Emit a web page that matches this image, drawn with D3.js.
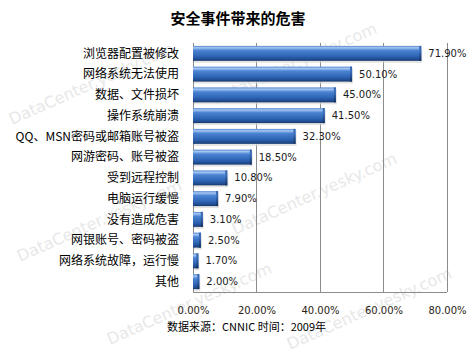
<!DOCTYPE html>
<html>
<head>
<meta charset="utf-8">
<script src="https://cdn.jsdelivr.net/npm/d3@7"></script>
<style>
  html, body { margin: 0; padding: 0; background: #fff; }
  svg { display: block; }
</style>
</head>
<body>
<div id="chart"></div>
<script>
const categories = [
  "浏览器配置被修改",
  "网络系统无法使用",
  "数据、文件损坏",
  "操作系统崩溃",
  "QQ、MSN密码或邮箱账号被盗",
  "网游密码、账号被盗",
  "受到远程控制",
  "电脑运行缓慢",
  "没有造成危害",
  "网银账号、密码被盗",
  "网络系统故障，运行慢",
  "其他"
];
const values = [71.9, 50.1, 45.0, 41.5, 32.3, 18.5, 10.8, 7.9, 3.1, 2.5, 1.7, 2.0];
const tickValues = [0, 20, 40, 60, 80];
const title = "安全事件带来的危害";
const footer = "数据来源：CNNIC 时间：2009年";
const watermark = "DataCenter.yesky.com";

const W = 475, H = 356;
const svg = d3.select("#chart").append("svg").attr("width", W).attr("height", H);

// watermarks (kept fully inside the picture)
const wmPos = [[12, 125], [215, 105], [20, 262], [235, 235], [110, 345], [290, 350]];
svg.append("g").selectAll("text").data(wmPos).join("text")
  .attr("transform", d => `translate(${d[0]},${d[1]}) rotate(-24)`)
  .attr("font-family", "Verdana, 'DejaVu Sans', sans-serif")
  .attr("font-size", 16)
  .attr("fill", "#e8e8e8")
  .text(watermark);

const defs = svg.append("defs");
const grad = defs.append("linearGradient").attr("id", "barGrad")
  .attr("x1", 0).attr("y1", 0).attr("x2", 0).attr("y2", 1);
[[0, "#4d82cf"], [0.12, "#a6c6f2"], [0.3, "#4a83d2"], [0.7, "#2d63b3"], [0.9, "#1f4b8f"], [1, "#15366a"]]
  .forEach(([o, c]) => grad.append("stop").attr("offset", o).attr("stop-color", c));
const capGrad = defs.append("linearGradient").attr("id", "capGrad")
  .attr("x1", 0).attr("y1", 0).attr("x2", 0).attr("y2", 1);
[[0, "#2f5fa6"], [0.3, "#3a6fbd"], [1, "#122f5e"]]
  .forEach(([o, c]) => capGrad.append("stop").attr("offset", o).attr("stop-color", c));

const x = d3.scaleLinear().domain([0, 80]).range([193, 447]);
const y = d3.scaleBand().domain(categories).range([43, 292]).paddingInner(0.28).paddingOuter(0.14);

// gridlines
svg.append("g").selectAll("line").data(tickValues.slice(1)).join("line")
  .attr("x1", d => x(d)).attr("x2", d => x(d))
  .attr("y1", 43).attr("y2", 292)
  .attr("stroke", "#8c8c8c").attr("stroke-width", 1)
  .attr("shape-rendering", "crispEdges");

// axis frame
svg.append("line").attr("x1", x(0)).attr("x2", x(0)).attr("y1", 43).attr("y2", 292)
  .attr("stroke", "#8c8c8c").attr("shape-rendering", "crispEdges");
svg.append("line").attr("x1", x(0)).attr("x2", x(80)).attr("y1", 292).attr("y2", 292)
  .attr("stroke", "#8c8c8c").attr("shape-rendering", "crispEdges");

// bars
const bars = svg.append("g").selectAll("g").data(values).join("g");
bars.append("rect")
  .attr("x", x(0) + 1)
  .attr("y", (d, i) => y(categories[i]) + 2)
  .attr("width", d => x(d) - x(0))
  .attr("height", y.bandwidth())
  .attr("fill", "#d9d9d9").attr("opacity", 0.7);
bars.append("rect")
  .attr("x", x(0))
  .attr("y", (d, i) => y(categories[i]))
  .attr("width", d => x(d) - x(0))
  .attr("height", y.bandwidth())
  .attr("fill", "url(#barGrad)");
bars.append("rect")
  .attr("x", d => x(d) - 2)
  .attr("y", (d, i) => y(categories[i]))
  .attr("width", 2)
  .attr("height", y.bandwidth())
  .attr("fill", "url(#capGrad)");

// value labels
svg.append("g").selectAll("text").data(values).join("text")
  .attr("x", d => x(d) + 7)
  .attr("y", (d, i) => y(categories[i]) + y.bandwidth() / 2)
  .attr("dy", "0.36em")
  .attr("font-family", "'DejaVu Sans', Verdana, sans-serif")
  .attr("font-size", 10)
  .attr("fill", "#1a1a1a")
  .text(d => d3.format(".2f")(d) + "%");

// category labels
svg.append("g").selectAll("text").data(categories).join("text")
  .attr("x", 179)
  .attr("y", d => y(d) + y.bandwidth() / 2)
  .attr("dy", "0.36em")
  .attr("text-anchor", "end")
  .attr("font-family", "'Noto Sans CJK SC', sans-serif")
  .attr("font-size", 12)
  .attr("fill", "#000")
  .text(d => d);

// x tick labels
const xAxis = d3.axisBottom(x).tickValues(tickValues).tickSize(0)
  .tickFormat(d => d3.format(".2f")(d) + "%");
const gx = svg.append("g").attr("transform", "translate(0,307)").call(xAxis);
gx.select(".domain").remove();
gx.selectAll("text")
  .attr("font-family", "'DejaVu Sans', Verdana, sans-serif")
  .attr("font-size", 10)
  .attr("fill", "#2b2414")
  .attr("dy", "0.71em")
  .attr("y", 0);

// title
svg.append("text")
  .attr("x", 238).attr("y", 24)
  .attr("text-anchor", "middle")
  .attr("font-family", "'Noto Sans CJK SC', sans-serif")
  .attr("font-size", 15)
  .attr("font-weight", "bold")
  .attr("fill", "#000")
  .text(title);

// footer
svg.append("text")
  .attr("x", 167).attr("y", 331)
  .attr("font-family", "'Noto Sans CJK SC', sans-serif")
  .attr("font-size", 11)
  .attr("fill", "#000")
  .text(footer);
</script>
</body>
</html>
